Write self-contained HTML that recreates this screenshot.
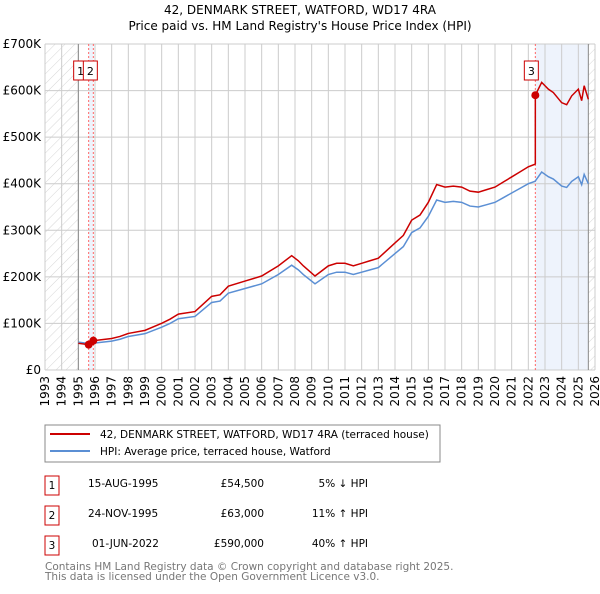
<!DOCTYPE html>
<html><head><meta charset="utf-8"><style>
body{margin:0;background:#fff;font-family:"DejaVu Sans","Liberation Sans",sans-serif;}
svg text{font-family:"DejaVu Sans","Liberation Sans",sans-serif;}
</style></head><body>
<svg id="c" width="600" height="590">
<defs><pattern id="h" width="7" height="7" patternUnits="userSpaceOnUse" patternTransform="rotate(45)"><line x1="0" y1="0" x2="0" y2="7" stroke="#ccc" stroke-width="0.8"/></pattern></defs>
<text x="300" y="14" text-anchor="middle" font-size="12">42, DENMARK STREET, WATFORD, WD17 4RA</text>
<text x="300" y="30" text-anchor="middle" font-size="12">Price paid vs. HM Land Registry's House Price Index (HPI)</text>
<g id="plot"></g>
<rect x="45" y="425" width="395" height="37" fill="#fff" stroke="#888"/>
<line x1="50" y1="434" x2="90" y2="434" stroke="#cc0000" stroke-width="2"/>
<text x="100" y="438" font-size="10.5">42, DENMARK STREET, WATFORD, WD17 4RA (terraced house)</text>
<line x1="50" y1="451" x2="90" y2="451" stroke="#5b8fd4" stroke-width="2"/>
<text x="100" y="455" font-size="10.5">HPI: Average price, terraced house, Watford</text>
<g font-size="10.5">
<rect x="45" y="476" width="14" height="19" fill="none" stroke="#cc0000"/><text x="52" y="489" text-anchor="middle">1</text>
<text x="88" y="487">15-AUG-1995</text><text x="264" y="487" text-anchor="end">£54,500</text><text x="368" y="487" text-anchor="end">5% ↓ HPI</text>
<rect x="45" y="506" width="14" height="19" fill="none" stroke="#cc0000"/><text x="52" y="519" text-anchor="middle">2</text>
<text x="88" y="517">24-NOV-1995</text><text x="264" y="517" text-anchor="end">£63,000</text><text x="368" y="517" text-anchor="end">11% ↑ HPI</text>
<rect x="45" y="536" width="14" height="19" fill="none" stroke="#cc0000"/><text x="52" y="549" text-anchor="middle">3</text>
<text x="92" y="547">01-JUN-2022</text><text x="264" y="547" text-anchor="end">£590,000</text><text x="368" y="547" text-anchor="end">40% ↑ HPI</text>
</g>
<text x="45" y="570" font-size="10.5" fill="#777">Contains HM Land Registry data © Crown copyright and database right 2025.</text>
<text x="45" y="580" font-size="10.5" fill="#777">This data is licensed under the Open Government Licence v3.0.</text>
</svg>
<script>
const years=[1995.0,1995.6,1996.0,1997.0,1997.5,1998.0,1999.0,2000.0,2000.5,2001.0,2002.0,2002.5,2003.0,2003.5,2004.0,2005.0,2006.0,2007.0,2007.8,2008.2,2008.5,2009.2,2010.0,2010.5,2011.0,2011.5,2012.0,2012.5,2013.0,2014.0,2014.5,2015.0,2015.5,2016.0,2016.5,2017.0,2017.5,2018.0,2018.5,2019.0,2019.5,2020.0,2020.5,2021.0,2021.5,2022.0,2022.4,2022.8,2023.2,2023.5,2024.0,2024.3,2024.6,2025.0,2025.2,2025.35,2025.6];
const hpi=[60000,57000,58000,62000,66000,72000,78000,92000,100000,110000,115000,130000,145000,148000,165000,175000,185000,205000,225000,215000,205000,185000,205000,210000,210000,205000,210000,215000,220000,250000,265000,295000,305000,330000,365000,360000,362000,360000,352000,350000,355000,360000,370000,380000,390000,400000,405000,425000,415000,410000,395000,392000,405000,415000,398000,420000,400000];
const saleYears=[1995.62,1995.9,2022.42];
const salePrices=[54500,63000,590000];
const yTicks=[0,100000,200000,300000,400000,500000,600000,700000];
const yLabels=["£0","£100K","£200K","£300K","£400K","£500K","£600K","£700K"];
const xTicks=[1993,1994,1995,1996,1997,1998,1999,2000,2001,2002,2003,2004,2005,2006,2007,2008,2009,2010,2011,2012,2013,2014,2015,2016,2017,2018,2019,2020,2021,2022,2023,2024,2025,2026];
const X0=45,X1=595,Y0=370,Y1=44,END=2025.6;
const xs=y=>X0+(y-1993)/33*(X1-X0);
const ys=v=>Y0-v/700000*(Y0-Y1);
const NS="http://www.w3.org/2000/svg";
const g=document.getElementById('plot');
function mk(t,a,name){const e=document.createElementNS(NS,t);for(const k in a)e.setAttribute(k,a[k]);


g.appendChild(e);return e;}
mk('rect',{x:xs(2022.42),y:Y1,width:xs(END)-xs(2022.42),height:Y0-Y1,fill:'#eef3fc'},'post-sale-band');
mk('rect',{x:xs(1995.62),y:Y1,width:xs(1995.9)-xs(1995.62),height:Y0-Y1,fill:'#eef3fc'},'sale-band');
mk('rect',{x:X0,y:Y1,width:xs(1995)-X0,height:Y0-Y1,fill:'url(#h)'},'hatch-left');
mk('rect',{x:xs(END),y:Y1,width:X1-xs(END),height:Y0-Y1,fill:'url(#h)'},'hatch-right');
yTicks.forEach((v,i)=>{mk('line',{x1:X0,x2:X1,y1:ys(v),y2:ys(v),stroke:'#ccc'},'y-gridline');
const t=mk('text',{x:X0-4,y:ys(v)+4,'text-anchor':'end','font-size':12},'y-tick-label');t.textContent=yLabels[i];});
xTicks.forEach(y=>{mk('line',{x1:xs(y),x2:xs(y),y1:Y1,y2:Y0,stroke:'#ccc'},'x-gridline');
const t=mk('text',{transform:`translate(${xs(y)+4},${Y0+6}) rotate(-90)`,'text-anchor':'end','font-size':12},'x-tick-label');t.textContent=y;});
mk('line',{x1:xs(1995),x2:xs(1995),y1:Y1,y2:Y0,stroke:'#888'},'data-start-line');
mk('line',{x1:xs(END),x2:xs(END),y1:Y1,y2:Y0,stroke:'#888'},'data-end-line');
saleYears.forEach(y=>mk('line',{x1:xs(y),x2:xs(y),y1:Y1,y2:Y0,stroke:'#f66','stroke-dasharray':'2,2'},'sale-marker-line'));
function hpiAt(y){for(let i=1;i<years.length;i++)if(y<=years[i]){const f=(y-years[i-1])/(years[i]-years[i-1]);return hpi[i-1]+f*(hpi[i]-hpi[i-1]);}return hpi[hpi.length-1];}
mk('polyline',{points:years.map((y,i)=>xs(y)+','+ys(hpi[i])).join(' '),fill:'none',stroke:'#5b8fd4','stroke-width':1.5},'hpi-line');
let pts=[];
years.forEach((y,i)=>{let k=-1;for(let j=0;j<saleYears.length;j++)if(y>=saleYears[j])k=j;
 if(k<0)k=0;
 const r=salePrices[k]/hpiAt(saleYears[k]);
 pts.push([y,hpi[i]*r]);});
saleYears.forEach((s,j)=>{const prevR=j>0?salePrices[j-1]/hpiAt(saleYears[j-1]):salePrices[0]/hpiAt(s);pts.push([s-0.001,hpiAt(s)*prevR]);pts.push([s,salePrices[j]]);});
pts.sort((a,b)=>a[0]-b[0]);
mk('polyline',{points:pts.map(p=>xs(p[0])+','+ys(p[1])).join(' '),fill:'none',stroke:'#cc0000','stroke-width':1.5},'property-price-line');
saleYears.forEach((s,j)=>mk('circle',{cx:xs(s),cy:ys(salePrices[j]),r:4,fill:'#cc0000'},'sale-point'));
[[1,xs(1995.62)-8],[2,xs(1995.9)-3],[3,xs(2022.42)-4]].forEach(([n,x])=>{
 mk('rect',{x:x-7,y:61,width:14,height:19,fill:'#fff',stroke:'#cc0000'},'sale-label-box');
 const t=mk('text',{x:x,y:75,'text-anchor':'middle','font-size':11},'sale-label');t.textContent=n;});
</script>
</body></html>
